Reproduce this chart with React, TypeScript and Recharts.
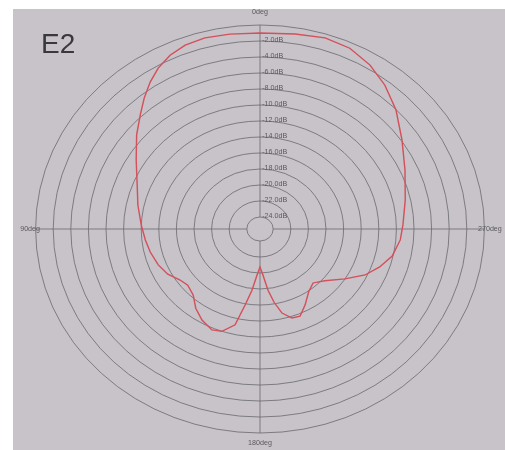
import React from 'react';
import { RadarChart, Radar, PolarGrid, PolarAngleAxis, PolarRadiusAxis } from 'recharts';

// Pattern data: azimuth angle (deg) and relative gain (dB)
const angles = [0, 8.0, 14.7, 20.3, 25.2, 29.9, 34.2, 38.8, 43.7, 50.0, 58.5, 68.5, 77.8, 87.9, 96.0, 103.0, 111.2, 118.3, 125.1, 130.5, 137.3, 143.6, 149.9, 156.6, 161.3, 166.7, 169.9, 173.2, 176.6, 180, 183.4, 186.8, 189.9, 193.4, 198.1, 202.7, 208.3, 215.2, 221.8, 228.7, 237.1, 244.3, 250.8, 257.3, 265.1, 271.8, 282.4, 294.1, 304.6, 313.9, 321.7, 328.6, 335.7, 342.8, 350.7];
const gainDb = [-1.0, -0.9, -0.8, -1.0, -1.5, -2.3, -3.3, -4.5, -5.8, -7.2, -9.0, -10.5, -11.3, -12.0, -12.4, -12.7, -13.1, -13.6, -14.4, -14.7, -14.3, -13.2, -12.35, -11.75, -12.0, -13.2, -15.85, -17.8, -19.7, -20.75, -19.7, -17.8, -16.2, -14.7, -13.8, -13.7, -14.7, -15.9, -16.45, -15.7, -14.0, -12.25, -11.1, -10.1, -9.5, -9.25, -8.6, -7.45, -5.9, -4.05, -2.6, -1.5, -0.7, -0.5, -0.8];
const ringTicks = [-24, -22, -20, -18, -16, -14, -12, -10, -8, -6, -4, -2, 0];
const angleTicks = [0, 90, 180, 270];
const title = 'E2';

const data = angles.map((a, i) => ({ angle: a, gain: gainDb[i] }));

const CX = 260;
const CY = 229;
const R = 204;
const R0 = 12;
const SX = 1.1;

const labelOffset = (v: number) => (v === 0 ? 13 : v === 180 ? 10 : 5);

const AngleTick = (props: any) => {
  const v = props.payload?.value;
  const rad = ((90 + v) * Math.PI) / 180;
  const r = R + labelOffset(v);
  const x = CX + r * Math.cos(rad);
  const y = CY - r * Math.sin(rad);
  return (
    <text x={x} y={y} textAnchor="middle" dominantBaseline="central" fontSize={6.5} fill="#5a585e" fontFamily="Liberation Sans, Arial, sans-serif">
      {`${v}deg`}
    </text>
  );
};

const RingTick = (props: any) => {
  const v = props.payload?.value;
  if (v === 0) return null;
  return (
    <text x={props.x + 2} y={props.y + 1} textAnchor="start" fontSize={6.5} fill="#5a585e" fontFamily="Liberation Sans, Arial, sans-serif">
      {`${v.toFixed(1)}dB`}
    </text>
  );
};

export default function App() {
  return (
    <div style={{ position: 'fixed', left: 0, top: 0, width: 505, height: 450, overflow: 'hidden' }}>
      <div style={{ position: 'absolute', left: 13, top: 9, right: 0, bottom: 0, background: '#c7c3c9' }} />
      <div style={{ position: 'absolute', left: 0, top: 0, transform: `scaleX(${SX})`, transformOrigin: `${CX}px ${CY}px` }}>
        <RadarChart
          width={505}
          height={450}
          cx={CX}
          cy={CY}
          innerRadius={R0}
          outerRadius={R}
          startAngle={90}
          endAngle={450}
          data={data}
          margin={{ top: 0, right: 0, bottom: 0, left: 0 }}
        >
          <PolarGrid gridType="circle" stroke="#6f6d74" strokeWidth={0.8} />
          <PolarAngleAxis dataKey="angle" type="number" domain={[0, 360]} ticks={angleTicks as any} tick={AngleTick} tickLine={false} axisLine={false} />
          <PolarRadiusAxis angle={90} type="number" domain={[-24, 0]} ticks={ringTicks as any} tick={RingTick} axisLine={false} tickLine={false} />
          <Radar dataKey="gain" stroke="#d4505a" strokeWidth={1.3} fill="none" fillOpacity={0} dot={false} isAnimationActive={false} />
        </RadarChart>
      </div>
      <div style={{ position: 'absolute', left: 41, top: 28, fontSize: 28, color: '#3a383c', fontFamily: 'Liberation Sans, Arial, sans-serif' }}>{title}</div>
    </div>
  );
}
